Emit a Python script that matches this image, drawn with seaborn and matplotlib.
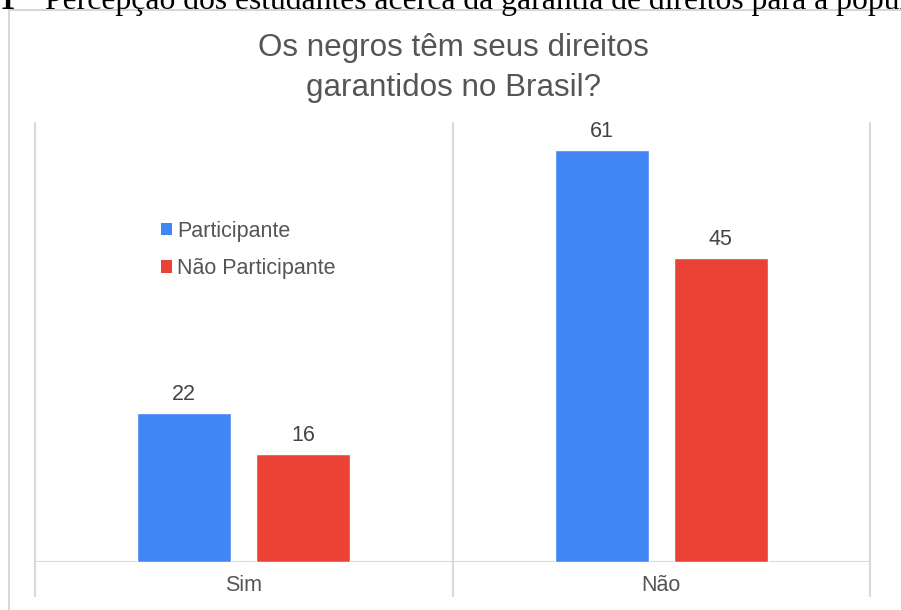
import matplotlib
matplotlib.use("Agg")
import matplotlib.pyplot as plt
import seaborn as sns
import pandas as pd
from matplotlib.lines import Line2D
from matplotlib.patches import Patch

categories = ["Sim", "Não"]
series_names = ["Participante", "Não Participante"]
participante = [22, 61]
nao_participante = [16, 45]
title = "Os negros têm seus direitos\ngarantidos no Brasil?"
caption_num = "1"
caption = "Percepção dos estudantes acerca da garantia de direitos para a população negra"

df = pd.DataFrame({
    "cat": categories * 2,
    "serie": [series_names[0]] * 2 + [series_names[1]] * 2,
    "val": participante + nao_participante,
})

sns.set_theme(style="white")
plt.rcParams["font.family"] = ["Liberation Sans", "DejaVu Sans"]

W, H = 901, 610
fig = plt.figure(figsize=(W / 100, H / 100), dpi=100)
ax = fig.add_axes([35 / W, 1 - 562 / H, (870 - 35) / W, (562 - 123) / H])

colors = ["#4285F4", "#EA4335"]
sns.barplot(data=df, x="cat", y="val", hue="serie", order=categories,
            hue_order=series_names, palette=colors, width=0.57, gap=0.21,
            saturation=1, ax=ax, legend=False)

ax.set_ylim(0, 65)
ax.set_xlim(-0.5, 1.5)
for s in ax.spines.values():
    s.set_visible(False)
ax.set_yticks([])
ax.set_xlabel("")
ax.set_ylabel("")
ax.tick_params(axis="x", length=0, pad=9.5, labelsize=15.5, labelcolor="#555555")

grid_c = "#d9d9d9"
ax.axhline(0, color=grid_c, lw=1.5, zorder=0)
for xb in [-0.5, 0.5, 1.5]:
    ax.plot([xb, xb], [-34 / 6.755, 65], color=grid_c, lw=1.5, clip_on=False, zorder=0)

for cont in ax.containers:
    ax.bar_label(cont, padding=6, fontsize=15.5, color="#444444")

# legend
handles = [Patch(facecolor=c, edgecolor="none") for c in colors]
fig.legend(handles, series_names, loc="upper left",
           bbox_to_anchor=(161 / W, 1 - 221 / H), frameon=False,
           fontsize=15.5, labelcolor="#555555", handlelength=0.5, handleheight=0.5,
           handletextpad=0.25, labelspacing=0.75, borderpad=0, borderaxespad=0)

fig.text(453 / W, 1 - 68 / H, title, ha="center", va="center", fontsize=22.6,
         color="#555555", linespacing=1.4)

# outer frame lines
fig.add_artist(Line2D([9 / W, 9 / W], [0, 1 - 10 / H], color="#d0d0d0", lw=1.2))
fig.add_artist(Line2D([9 / W, 1], [1 - 10 / H, 1 - 10 / H], color="#d0d0d0", lw=1.2))

# cropped caption above
serif = ["Liberation Serif", "DejaVu Serif"]
fig.text(0, 1 - 9 / H, caption_num, ha="left", va="baseline", fontsize=22,
         family=serif, color="black", fontweight="bold")
fig.text(45 / W, 1 - 9 / H, caption, ha="left", va="baseline", fontsize=22.8,
         family=serif, color="black")

fig.savefig("out.png", dpi=100)
